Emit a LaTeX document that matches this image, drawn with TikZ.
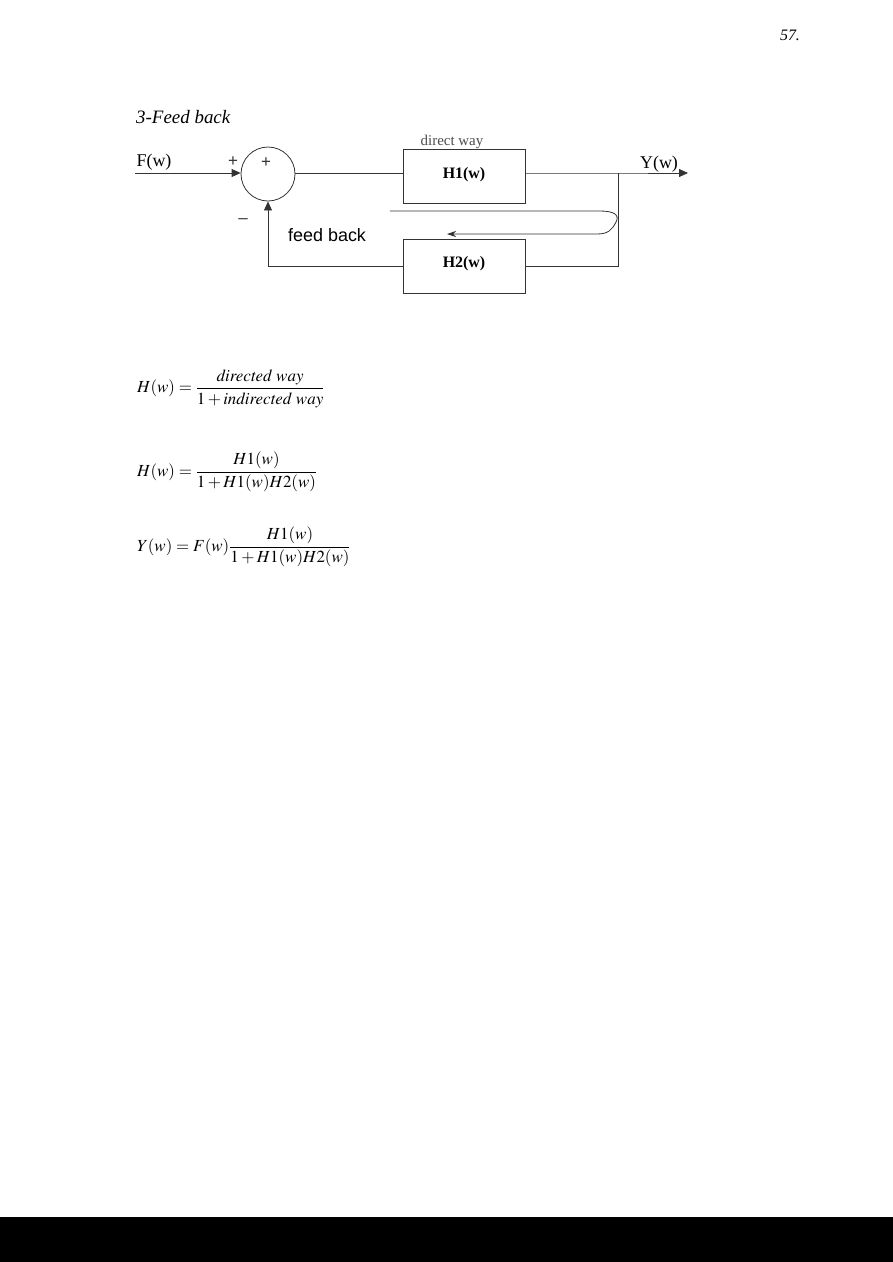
\documentclass[tikz,border=0pt]{standalone}
\usepackage{amsmath}
\usepackage{mathptmx}
\usepackage{fontspec}
\setmainfont{Liberation Serif}
\setsansfont{Liberation Sans}
\usetikzlibrary{arrows.meta}
\tikzset{
  wire/.style={line width=0.8bp, black!80},
  blockbox/.style={draw, line width=0.8bp, black!80, text=black, minimum width=122bp, minimum height=54bp, inner sep=0pt, font=\fontsize{16}{18}\selectfont\bfseries},
  sumnode/.style={draw, circle, line width=0.8bp, black!80, minimum size=54bp, inner sep=0pt},
  sig/.style={font=\fontsize{18}{20}\selectfont, inner sep=0pt},
  sgn/.style={font=\sffamily\fontsize{17}{19}\selectfont, inner sep=0pt, text=black!80},
  eqn/.style={anchor=west, inner sep=0pt, font=\fontsize{17}{19}\selectfont},
}
\begin{document}
\begin{tikzpicture}[x=1bp, y=-1bp]
\useasboundingbox (0,0) rectangle (893,1262);
\fill[black] (0,1217) rectangle (893,1262);

\node[font=\fontsize{16}{18}\selectfont] (page) at (790,35) {\itshape 57.};
\node[anchor=west, inner sep=0pt, font=\fontsize{19}{21}\selectfont\itshape] (title) at (136,117) {3-Feed back};

%blocks
\node[sumnode] (sum) at (268,174) {};
\node[sgn] (plusin) at (266,163) {+};
\node[blockbox] (h1) at (464,176.5) {\raisebox{7bp}{H1(w)}};
\node[blockbox] (h2) at (464,266) {\raisebox{8bp}{H2(w)}};
\node[font=\fontsize{15}{17}\selectfont, text=black!70] (dway) at (452,142) {direct way};

%signals
\coordinate (in) at (135,173);
\coordinate (br) at (618,173);
\coordinate (out) at (688,173);
\coordinate (br2) at (618,266);
\coordinate (fbc) at (268,266);
\node[sig] (fw) at (154,162) {F(w)};
\node[sig] (yw) at (659,164) {Y(w)};
\node[sgn] (plus) at (233,162) {+};
\node[sgn] (minus) at (243,221) {--};
\node[font=\sffamily\fontsize{18}{20}\selectfont, anchor=west, inner sep=0pt] (fbl) at (288,235) {feed back};

\draw[wire, -{Triangle[length=9bp, width=8bp]}] (in) to (sum.west |- in);
\draw[wire] (sum.east |- in) to (h1.west |- in);
\draw[wire, -{Triangle[length=9bp, width=8bp]}] (h1.east |- in) -- (br) -- (out);
\draw[wire] (br) -- (br2) -- (h2.east |- br2);
\draw[wire, -{Triangle[length=9bp, width=8bp]}] (h2.west |- fbc) -- (fbc) -- (sum.south);

%curved arrow
\coordinate (fbs) at (390,211);
\coordinate (fbe) at (447,234);
\draw[wire, -{Stealth[length=9bp, width=6bp]}] (fbs) -- (600,211) .. controls (614,211) and (620,215) .. (616,222) .. controls (612,230) and (608,234) .. (597,234) -- (fbe);

%equations
\node[eqn] (eq1) at (137,389) {$H(w)=\dfrac{\mathit{directed\ way}}{1+\mathit{indirected\ way}}$};
\node[eqn] (eq2) at (137,472) {$H(w)=\dfrac{H1(w)}{1+H1(w)H2(w)}$};
\node[eqn] (eq3) at (137,547) {$Y(w)=F(w)\dfrac{H1(w)}{1+H1(w)H2(w)}$};
\end{tikzpicture}
\end{document}
